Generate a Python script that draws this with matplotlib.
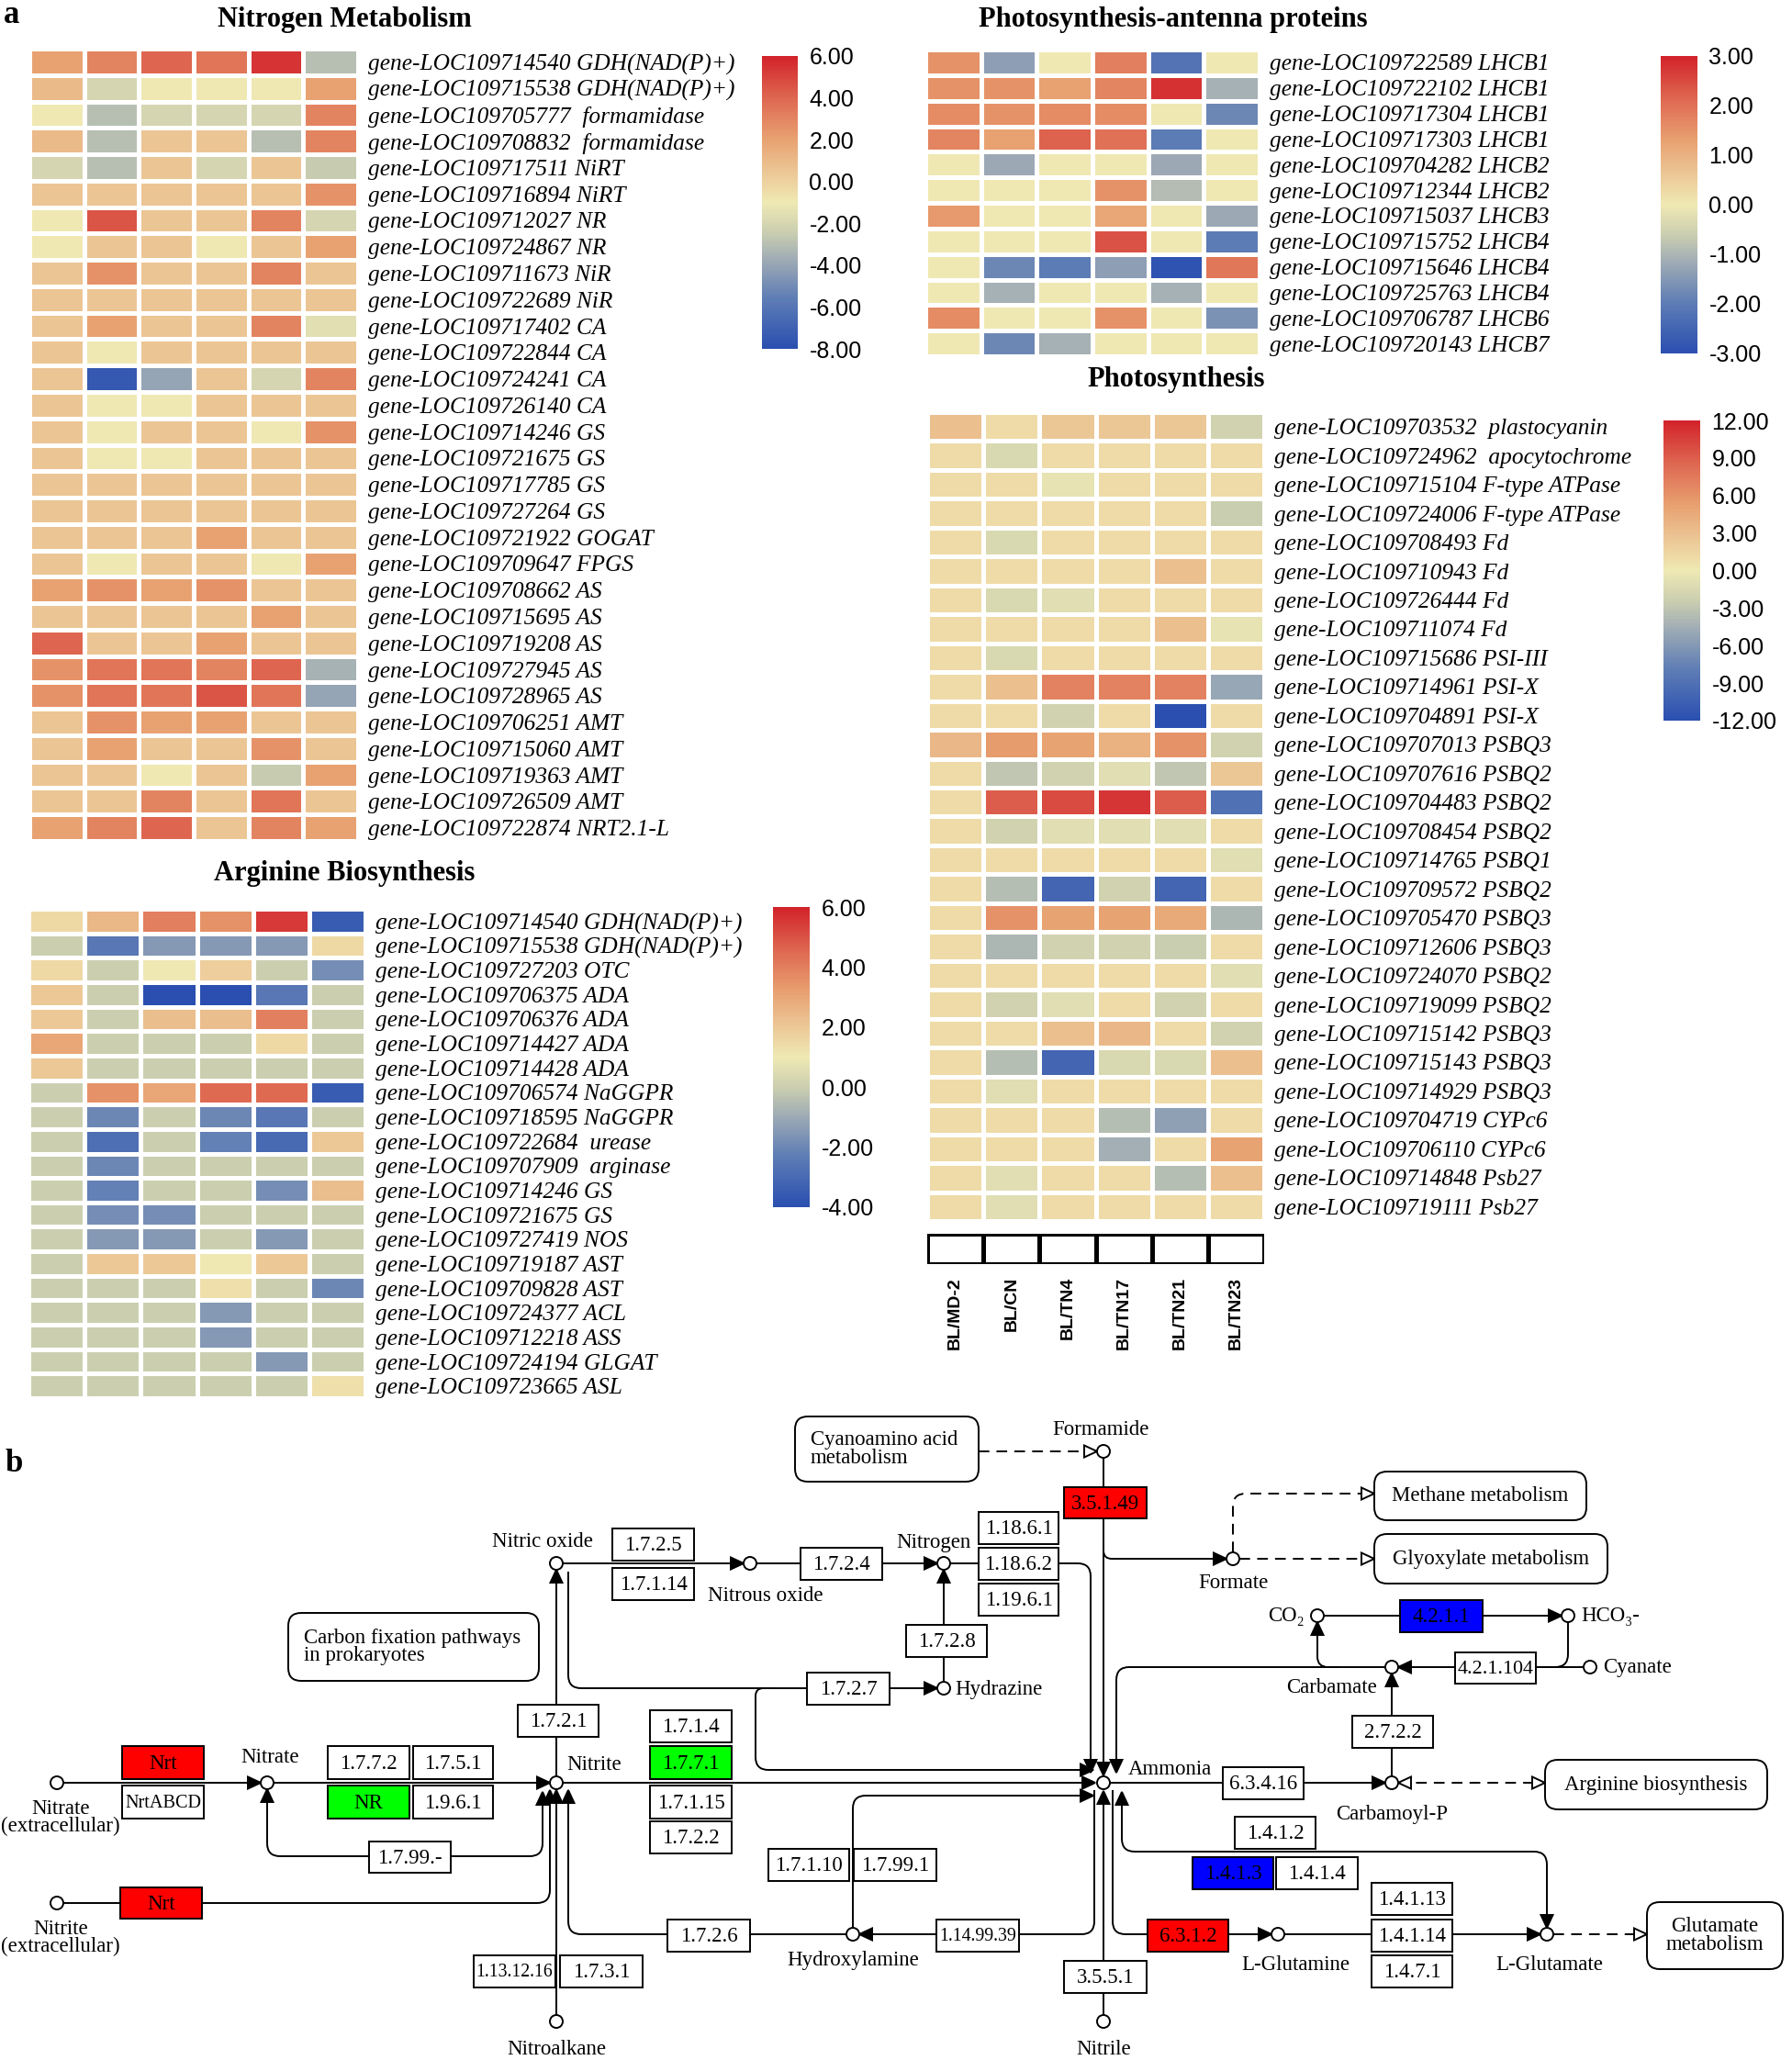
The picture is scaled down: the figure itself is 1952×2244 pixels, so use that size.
import numpy as np
import matplotlib
matplotlib.use("Agg")
import matplotlib.pyplot as plt
from matplotlib.colors import LinearSegmentedColormap, Normalize
from matplotlib.patches import Rectangle, Circle, Polygon, FancyBboxPatch, PathPatch
from matplotlib.path import Path

# ---------------- data ----------------
samples = ["BL/MD-2", "BL/CN", "BL/TN4", "BL/TN17", "BL/TN21", "BL/TN23"]

nit_ids = ["109714540", "109715538", "109705777", "109708832", "109717511", "109716894",
           "109712027", "109724867", "109711673", "109722689", "109717402", "109722844",
           "109724241", "109726140", "109714246", "109721675", "109717785", "109727264",
           "109721922", "109709647", "109708662", "109715695", "109719208", "109727945",
           "109728965", "109706251", "109715060", "109719363", "109726509", "109722874"]
nit_names = ["GDH(NAD(P)+)", "GDH(NAD(P)+)", " formamidase", " formamidase", "NiRT", "NiRT",
             "NR", "NR", "NiR", "NiR", "CA", "CA", "CA", "CA", "GS", "GS", "GS", "GS",
             "GOGAT", "FPGS", "AS", "AS", "AS", "AS", "AS", "AMT", "AMT", "AMT", "AMT", "NRT2.1-L"]
nit_vals = [
    [2, 3, 4, 3.5, 5.5, -3],
    [1, -2, -1, -1, -1, 2],
    [-1, -3, -2, -2, -2, 3],
    [1, -3, 0.5, 0.5, -3, 3],
    [-2, -3, 0.5, -2, 0.5, -2.5],
    [0.5, 0.5, 0.5, 0.5, 0.5, 2.5],
    [-1, 4.5, 0.5, 0.5, 3, -2],
    [-1, 0.5, 0.5, -1, 0.5, 2],
    [0.5, 2.5, 0.5, 0.5, 3, 0.5],
    [0.5, 0.5, 0.5, 0.5, 0.5, 0.5],
    [0.5, 2, 0.5, 0.5, 3, -1.5],
    [0.5, -1, 0.5, 0.5, 0.5, 0.5],
    [0.5, -7.5, -4, 0.5, -2, 3],
    [0.5, -1, -1, 0.5, 0.5, 0.5],
    [0.5, -1, 0.5, 0.5, -1, 2.5],
    [0.5, -1, -1, 0.5, 0.5, 0.5],
    [0.5, 0.5, 0.5, 0.5, 0.5, 0.5],
    [0.5, 0.5, 0.5, 0.5, 0.5, 0.5],
    [0.5, 0.5, 0.5, 2, 0.5, 0.5],
    [0.5, -1, 0.5, 0.5, -1, 2],
    [2, 2.5, 2, 2.5, 0.5, 0.5],
    [0.5, 0.5, 0.5, 0.5, 2, 0.5],
    [4, 0.5, 0.5, 2, 0.5, 0.5],
    [2.5, 3.5, 3.5, 3, 4, -3.5],
    [2.5, 3.5, 3.5, 4.5, 3.5, -4],
    [0.5, 2.5, 2, 2, 0.5, 0.5],
    [0.5, 2, 0.5, 0.5, 2.5, 0.5],
    [0.5, 0.5, -1, 0.5, -2.5, 2],
    [0.5, 0.5, 3, 0.5, 3.5, 0.5],
    [2, 3, 4, 0.5, 3, 2],
]

arg_ids = ["109714540", "109715538", "109727203", "109706375", "109706376", "109714427",
           "109714428", "109706574", "109718595", "109722684", "109707909", "109714246",
           "109721675", "109727419", "109719187", "109709828", "109724377", "109712218",
           "109724194", "109723665"]
arg_names = ["GDH(NAD(P)+)", "GDH(NAD(P)+)", "OTC", "ADA", "ADA", "ADA", "ADA", "NaGGPR",
             "NaGGPR", " urease", " arginase", "GS", "GS", "NOS", "AST", "AST", "ACL", "ASS",
             "GLGAT", "ASL"]
arg_vals = [
    [1.5, 2.5, 4, 3.5, 5.5, -3.5],
    [0, -2.5, -1.5, -1.5, -1.5, 1.5],
    [1.5, 0, 1, 1.8, 0, -1.8],
    [2, 0, -4, -4, -2.5, 0],
    [2, 0, 2.3, 2.3, 4, 0],
    [3, 0, 0, 0, 1.5, 0],
    [2, 0, 0, 0, 0, 0],
    [0, 3.5, 3, 4.5, 4.5, -3.5],
    [0, -2, 0, -2, -2.5, 0],
    [0, -2.8, 0, -2.2, -3, 2],
    [0, -2, 0, 0, 0, 0],
    [0, -2.2, 0, 0, -1.8, 2.3],
    [0, -1.8, -1.8, 0, 0, 0],
    [0, -1.5, -1.5, 0, -1.5, 0],
    [0, 2, 2, 1, 2, 0],
    [0, 0, 0, 1.3, 0, -2],
    [0, 0, 0, -1.5, 0, 0],
    [0, 0, 0, -1.5, 0, 0],
    [0, 0, 0, 0, -1.5, 0],
    [0, 0, 0, 0, 0, 1.3],
]

ant_ids = ["109722589", "109722102", "109717304", "109717303", "109704282", "109712344",
           "109715037", "109715752", "109715646", "109725763", "109706787", "109720143"]
ant_names = ["LHCB1", "LHCB1", "LHCB1", "LHCB1", "LHCB2", "LHCB2", "LHCB3", "LHCB4",
             "LHCB4", "LHCB4", "LHCB6", "LHCB7"]
ant_vals = [
    [1.5, -1.4, 0, 1.8, -2.2, 0],
    [1.5, 1.5, 1.3, 1.7, 2.8, -1.1],
    [1.6, 1.5, 1.6, 1.6, 0, -1.8],
    [1.7, 1.3, 2.2, 2, -2.0, 0],
    [0, -1.2, 0, 0, -1.2, 0],
    [0, 0, 0, 1.5, -0.9, 0],
    [1.4, 0, 0, 1.2, 0, -1.2],
    [0, 0, 0, 2.4, 0, -2.0],
    [0, -1.8, -2.0, -1.4, -2.9, 1.9],
    [0, -1.1, 0, 0, -1.1, 0],
    [1.6, 0, 0, 1.5, 0, -1.6],
    [0, -1.8, -1.1, 0, 0, 0],
]

pho_ids = ["109703532", "109724962", "109715104", "109724006", "109708493", "109710943",
           "109726444", "109711074", "109715686", "109714961", "109704891", "109707013",
           "109707616", "109704483", "109708454", "109714765", "109709572", "109705470",
           "109712606", "109724070", "109719099", "109715142", "109715143", "109714929",
           "109704719", "109706110", "109714848", "109719111"]
pho_names = [" plastocyanin", " apocytochrome", "F-type ATPase", "F-type ATPase", "Fd", "Fd",
             "Fd", "Fd", "PSI-III", "PSI-X", "PSI-X", "PSBQ3", "PSBQ2", "PSBQ2", "PSBQ2",
             "PSBQ1", "PSBQ2", "PSBQ3", "PSBQ3", "PSBQ2", "PSBQ2", "PSBQ3", "PSBQ3", "PSBQ3",
             "CYPc6", "CYPc6", "Psb27", "Psb27"]
pho_vals = [
    [3, 1, 2.5, 2.5, 2.5, -2],
    [1, -1.5, 1, 1, 1, 1],
    [1, 1, -0.5, 1, 1, 1],
    [1, 1, 1, 1, 1, -2.5],
    [1, -1.5, 1, 1, 1, 1],
    [1, 1, 1, 1, 3, 1],
    [1, -1.5, -1, 1, 1, 1],
    [1, 1, 1, 1, 3, -0.5],
    [1, -1.5, 1, 1, 1, 1],
    [1, 3, 7, 7, 7, -5],
    [1, 1, -2, 1, -12, 1],
    [3.5, 5.5, 5, 4, 6, -2],
    [1, -3, -2, -1, -3, 2.5],
    [1, 9, 10, 11, 9, -9],
    [1, -2, -1, -1, -1, 1],
    [1, 1, 1, 1, 1, -1],
    [1, -3.5, -10, -2, -10, 1],
    [1, 6, 5, 5, 4.5, -4],
    [1, -4, -2, -2, -2.5, 1],
    [1, 1, 1, 1, 1, -1],
    [1, -2, -1, 1, -2, 1],
    [1, 1, 3, 3.5, 1, -2],
    [1, -3.5, -10, -1.5, -1.5, 3],
    [1, -1, 1, 1, 1, 1],
    [1, 1, 1, -3.5, -5.5, 1],
    [1, 1, 1, -4.5, 1, 5],
    [1, -1, 1, 1, -3.5, 3],
    [1, -1, 1, 1, 1, 1],
]

# ---------------- figure ----------------
W, H = 1952, 2244
fig = plt.figure(figsize=(W / 100, H / 100), dpi=100)
SERIF = ["Liberation Serif", "DejaVu Serif"]
SANS = ["Liberation Sans", "DejaVu Sans"]

cmap = LinearSegmentedColormap.from_list("hm", [
    (0.0, "#2A4FB0"), (0.17, "#5E7DB5"), (0.30, "#9DAAB5"), (0.40, "#CBCFB0"),
    (0.50, "#EFE9B3"), (0.60, "#ECC897"), (0.72, "#E8A070"), (0.86, "#DE6650"),
    (1.0, "#D2222A")])


def rect(x0, y0, x1, y1):
    return [x0 / W, 1 - y1 / H, (x1 - x0) / W, (y1 - y0) / H]


def heatmap(box, cbox, vals, ids, names, vmin, vmax, ticks):
    ax = fig.add_axes(rect(*box))
    data = np.array(vals, dtype=float)
    n = data.shape[0]
    norm = Normalize(vmin=vmin, vmax=vmax)
    m = ax.pcolormesh(data, cmap=cmap, norm=norm, edgecolors="white", linewidth=2.2)
    ax.set_xlim(0, data.shape[1])
    ax.set_ylim(n, 0)
    for s in ax.spines.values():
        s.set_visible(False)
    ax.set_xticks([])
    ax.set_yticks(np.arange(n) + 0.5)
    ax.set_yticklabels(["gene-LOC%s %s" % (i, nm) for i, nm in zip(ids, names)],
                       fontfamily=SERIF, fontstyle="italic", fontsize=18.3)
    ax.yaxis.tick_right()
    ax.tick_params(axis="y", length=0, pad=8)
    cax = fig.add_axes(rect(*cbox))
    cb = fig.colorbar(m, cax=cax, ticks=ticks)
    cb.outline.set_visible(False)
    cb.ax.set_yticklabels(["%.2f" % t for t in ticks], fontfamily=SANS, fontsize=18)
    cb.ax.tick_params(length=0, pad=9)
    return ax


heatmap((32, 53, 390, 916), (830, 61, 869, 380), nit_vals, nit_ids, nit_names,
        -8, 6, [6, 4, 2, 0, -2, -4, -6, -8])
heatmap((31, 990, 398, 1523), (842, 988, 882, 1315), arg_vals, arg_ids, arg_names,
        -4, 6, [6, 4, 2, 0, -2, -4])
heatmap((1008, 54, 1372, 388), (1809, 61, 1849, 385), ant_vals, ant_ids, ant_names,
        -3, 3, [3, 2, 1, 0, -1, -2, -3])
heatmap((1010, 449, 1377, 1330), (1812, 458, 1852, 785), pho_vals, pho_ids, pho_names,
        -12, 12, [12, 9, 6, 3, 0, -3, -6, -9, -12])

# sample annotation row with labels
axc = fig.add_axes(rect(1010, 1344, 1377, 1377))
axc.pcolormesh(np.zeros((1, len(samples))), cmap=LinearSegmentedColormap.from_list("w", ["white", "white"]),
               edgecolors="black", linewidth=2.5)
axc.set_xlim(0, len(samples))
axc.set_ylim(1, 0)
for s in axc.spines.values():
    s.set_visible(False)
axc.set_yticks([])
axc.set_xticks(np.arange(len(samples)) + 0.5)
axc.set_xticklabels(samples, rotation=90, fontfamily=SANS, fontweight="bold", fontsize=14)
axc.tick_params(axis="x", length=0, pad=10)

# ---------------- overlay for titles and pathway ----------------
ov = fig.add_axes([0, 0, 1, 1])
ov.set_xlim(0, W)
ov.set_ylim(H, 0)
ov.axis("off")
ov.patch.set_alpha(0)
renderer = fig.canvas.get_renderer()

ov.text(4, 16, "a", fontfamily=SERIF, fontweight="bold", fontsize=25, va="center", ha="left")
ov.text(6, 1594, "b", fontfamily=SERIF, fontweight="bold", fontsize=25, va="center", ha="left")
for tx, x, y in [("Nitrogen Metabolism", 375, 21), ("Arginine Biosynthesis", 375, 951),
                 ("Photosynthesis-antenna proteins", 1278, 21), ("Photosynthesis", 1281, 413)]:
    ov.text(x, y, tx, fontfamily=SERIF, fontweight="bold", fontsize=22, ha="center", va="center")

FS = 16.5
LW = 1.4


def node(x, y):
    ov.add_patch(Circle((x, y), 7, fc="white", ec="black", lw=LW, zorder=5))


def box(x0, y0, x1, y1, label, fc="white"):
    ov.add_patch(Rectangle((x0, y0), x1 - x0, y1 - y0, fc=fc, ec="black", lw=LW, zorder=4))
    t = ov.text((x0 + x1) / 2, (y0 + y1) / 2 + 1, label, fontfamily=SERIF, fontsize=FS,
                ha="center", va="center", zorder=6)
    w = t.get_window_extent(renderer=renderer).width
    avail = (x1 - x0) - 6
    if w > avail:
        t.set_fontsize(FS * avail / w)


def rbox(x0, y0, x1, y1, label, ha="center"):
    ov.add_patch(FancyBboxPatch((x0 + 14, y0 + 14), x1 - x0 - 28, y1 - y0 - 28,
                                boxstyle="round,pad=14", fc="white", ec="black", lw=LW, zorder=4))
    tx = (x0 + x1) / 2 if ha == "center" else x0 + 17
    ov.text(tx, (y0 + y1) / 2, label, fontfamily=SERIF, fontsize=FS, ha=ha, va="center",
            linespacing=0.9, zorder=6)


def label(x, y, tx, ha="center"):
    ov.text(x, y, tx, fontfamily=SERIF, fontsize=FS, ha=ha, va="center", linespacing=0.9, zorder=6)


def poly(pts, r=14, dashed=False):
    verts = [pts[0]]
    codes = [Path.MOVETO]
    for i in range(1, len(pts) - 1):
        p = np.array(pts[i], float)
        a = np.array(pts[i - 1], float)
        b = np.array(pts[i + 1], float)
        da = (p - a) / np.linalg.norm(p - a)
        db = (b - p) / np.linalg.norm(b - p)
        rr = min(r, np.linalg.norm(p - a) / 2, np.linalg.norm(b - p) / 2)
        verts += [tuple(p - da * rr), tuple(p), tuple(p + db * rr)]
        codes += [Path.LINETO, Path.CURVE3, Path.CURVE3]
    verts.append(pts[-1])
    codes.append(Path.LINETO)
    ov.add_patch(PathPatch(Path(verts, codes), fc="none", ec="black", lw=LW,
                           ls=(0, (6, 4)) if dashed else "-", zorder=3))


def head(tip, frm, filled=True, L=14, Wd=13):
    t = np.array(tip, float)
    f = np.array(frm, float)
    d = (t - f) / np.linalg.norm(t - f)
    n = np.array([-d[1], d[0]])
    base = t - d * L
    pts = [t, base + n * Wd / 2, base - n * Wd / 2]
    ov.add_patch(Polygon(pts, closed=True, fc="black" if filled else "white", ec="black",
                         lw=LW, zorder=5))


def arrow(pts, dashed=False, start=False, end=True, filled=True, r=14):
    poly(pts, r=r, dashed=dashed)
    if end:
        head(pts[-1], pts[-2], filled=filled)
    if start:
        head(pts[0], pts[1], filled=filled)


# lines (drawn first)
arrow([(69, 1942), (284, 1942)])
arrow([(298, 1942), (599, 1942)])
arrow([(606, 1935), (606, 1710)])
arrow([(613, 1703), (810, 1703)])
arrow([(824, 1703), (1021, 1703)])
arrow([(1028, 1832), (1028, 1710)])
arrow([(619, 1712), (619, 1839), (1021, 1839)])
arrow([(840, 1839), (823, 1839), (823, 1928), (1191, 1928)])
arrow([(613, 1942), (1193, 1942)])
arrow([(929, 2100), (929, 1956), (1191, 1956)])
arrow([(1192, 1950), (1192, 2107), (936, 2107)])
arrow([(922, 2107), (619, 2107), (619, 1950)])
arrow([(591, 1952), (591, 2022), (291, 2022), (291, 1949)], start=True)
arrow([(69, 2073), (599, 2073), (599, 1950)])
arrow([(606, 2195), (606, 1950)])
arrow([(1035, 1703), (1188, 1703), (1188, 1931)])
arrow([(1202, 1588), (1202, 1934)])
arrow([(1202, 1680), (1202, 1698), (1336, 1698)])
arrow([(1509, 1816), (1216, 1816), (1216, 1931)])
arrow([(1458, 1816), (1435, 1816), (1435, 1767)], r=18)
arrow([(1442, 1760), (1701, 1760)])
arrow([(1725, 1816), (1523, 1816)])
poly([(1708, 1767), (1708, 1816), (1680, 1816)], r=18)
arrow([(1209, 1942), (1509, 1942)])
arrow([(1516, 1935), (1516, 1823)])
arrow([(1222, 1952), (1222, 2017), (1685, 2017), (1685, 2100)], start=True)
arrow([(1212, 1950), (1212, 2107), (1385, 2107)])
arrow([(1399, 2107), (1678, 2107)])
arrow([(1202, 2195), (1202, 1951)])

# dashed links
arrow([(1066, 1581), (1195, 1581)], dashed=True, filled=False)
arrow([(1343, 1691), (1343, 1627), (1497, 1627)], dashed=True, filled=False)
arrow([(1350, 1698), (1497, 1698)], dashed=True, filled=False)
arrow([(1523, 1942), (1683, 1942)], dashed=True, filled=False, start=True)
arrow([(1692, 2107), (1794, 2107)], dashed=True, filled=False)

# enzyme boxes
RED, GREEN, BLUE = "#FF0000", "#00FF00", "#0000FF"
boxes = [
    (133, 1902, 222, 1938, "Nrt", RED), (133, 1945, 222, 1981, "NrtABCD", "white"),
    (131, 2056, 220, 2090, "Nrt", RED),
    (357, 1902, 446, 1938, "1.7.7.2", "white"), (450, 1902, 537, 1938, "1.7.5.1", "white"),
    (357, 1945, 446, 1981, "NR", GREEN), (450, 1945, 537, 1981, "1.9.6.1", "white"),
    (402, 2006, 491, 2040, "1.7.99.-", "white"),
    (564, 1857, 652, 1892, "1.7.2.1", "white"),
    (667, 1665, 756, 1700, "1.7.2.5", "white"), (667, 1708, 756, 1743, "1.7.1.14", "white"),
    (872, 1686, 961, 1721, "1.7.2.4", "white"),
    (879, 1822, 969, 1857, "1.7.2.7", "white"),
    (708, 1863, 797, 1898, "1.7.1.4", "white"), (708, 1902, 797, 1938, "1.7.7.1", GREEN),
    (708, 1945, 797, 1981, "1.7.1.15", "white"), (708, 1984, 797, 2019, "1.7.2.2", "white"),
    (837, 2014, 925, 2049, "1.7.1.10", "white"), (930, 2014, 1020, 2049, "1.7.99.1", "white"),
    (727, 2091, 817, 2126, "1.7.2.6", "white"),
    (516, 2130, 605, 2165, "1.13.12.16", "white"), (610, 2130, 700, 2165, "1.7.3.1", "white"),
    (1020, 2091, 1110, 2126, "1.14.99.39", "white"),
    (1066, 1647, 1153, 1682, "1.18.6.1", "white"), (1066, 1686, 1153, 1721, "1.18.6.2", "white"),
    (1066, 1725, 1153, 1760, "1.19.6.1", "white"),
    (987, 1770, 1075, 1805, "1.7.2.8", "white"),
    (1159, 1620, 1249, 1654, "3.5.1.49", RED),
    (1159, 2136, 1249, 2171, "3.5.5.1", "white"),
    (1525, 1743, 1615, 1778, "4.2.1.1", BLUE),
    (1585, 1800, 1673, 1834, "4.2.1.104", "white"),
    (1473, 1869, 1561, 1904, "2.7.2.2", "white"),
    (1332, 1925, 1420, 1960, "6.3.4.16", "white"),
    (1345, 1979, 1433, 2014, "1.4.1.2", "white"),
    (1299, 2023, 1387, 2058, "1.4.1.3", BLUE), (1390, 2023, 1479, 2058, "1.4.1.4", "white"),
    (1250, 2091, 1338, 2126, "6.3.1.2", RED),
    (1494, 2051, 1582, 2086, "1.4.1.13", "white"), (1494, 2091, 1582, 2126, "1.4.1.14", "white"),
    (1494, 2130, 1582, 2165, "1.4.7.1", "white"),
]
for b in boxes:
    box(*b)

rbox(866, 1543, 1066, 1614, "Cyanoamino acid\nmetabolism", ha="left")
rbox(314, 1757, 587, 1831, "Carbon fixation pathways\nin prokaryotes", ha="left")
rbox(1497, 1603, 1728, 1656, "Methane metabolism")
rbox(1497, 1671, 1751, 1725, "Glyoxylate metabolism")
rbox(1683, 1917, 1925, 1971, "Arginine biosynthesis")
rbox(1794, 2072, 1942, 2145, "Glutamate\nmetabolism")

for (x, y) in [(62, 1942), (291, 1942), (606, 1942), (606, 1703), (817, 1703), (1028, 1703),
               (1028, 1839), (1202, 1581), (1343, 1698), (1202, 1942), (1435, 1760),
               (1708, 1760), (1732, 1816), (1516, 1816), (1516, 1942), (1392, 2107),
               (1685, 2107), (1202, 2202), (929, 2107), (62, 2073), (606, 2202)]:
    node(x, y)

label(66, 1980, "Nitrate\n(extracellular)")
label(66, 2111, "Nitrite\n(extracellular)")
label(294, 1914, "Nitrate")
label(617, 1922, "Nitrite", ha="left")
label(591, 1679, "Nitric oxide")
label(834, 1738, "Nitrous oxide")
label(1017, 1680, "Nitrogen")
label(1040, 1840, "Hydrazine", ha="left")
label(1199, 1557, "Formamide")
label(1343, 1724, "Formate")
label(1229, 1927, "Ammonia", ha="left")
ov.text(1421, 1760, "CO\u2082", fontfamily=SERIF, fontsize=FS, ha="right", va="center")
ov.text(1722, 1760, "HCO\u2083-", fontfamily=SERIF, fontsize=FS, ha="left", va="center")
label(1746, 1816, "Cyanate", ha="left")
label(1451, 1838, "Carbamate")
label(1516, 1976, "Carbamoyl-P")
label(1411, 2140, "L-Glutamine")
label(1688, 2140, "L-Glutamate")
label(1202, 2233, "Nitrile")
label(929, 2136, "Hydroxylamine")
label(606, 2233, "Nitroalkane")

fig.savefig("out.png", dpi=100)
